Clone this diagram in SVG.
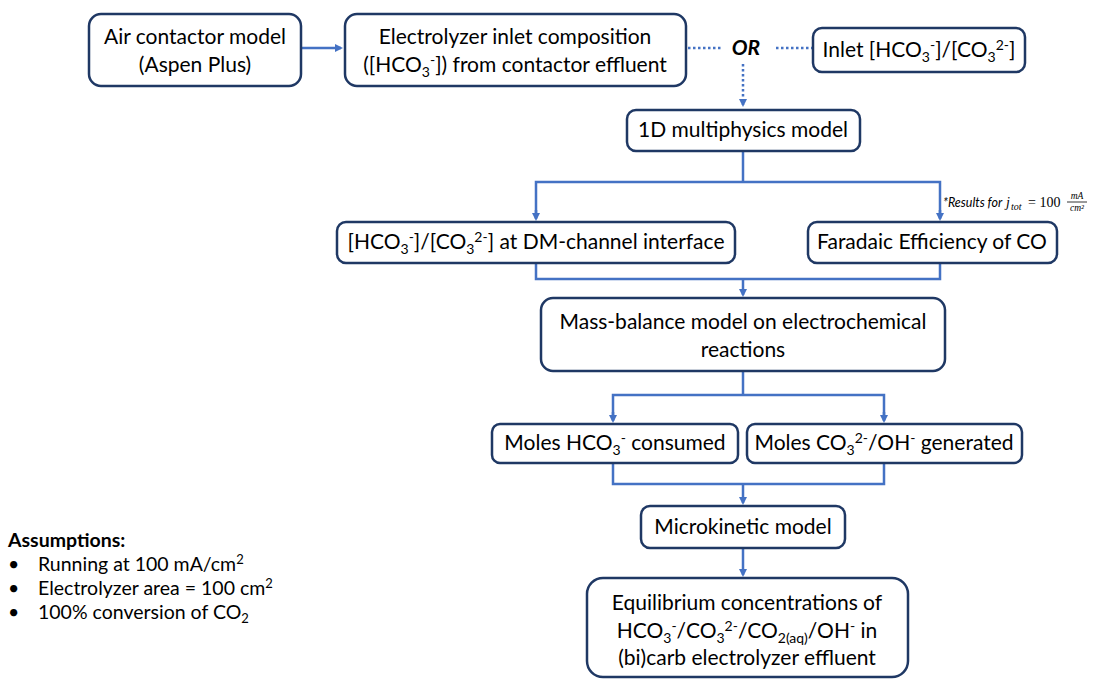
<svg xmlns="http://www.w3.org/2000/svg" width="1097" height="679" viewBox="0 0 1097 679">
<defs>
<marker id="ah" markerWidth="8" markerHeight="8" refX="6" refY="4" orient="auto" markerUnits="userSpaceOnUse">
<path d="M0,0 L8,4 L0,8 z" fill="#4472C4"/>
</marker>
<style>
.box{fill:#fff;stroke:#1F3864;stroke-width:2.5}
.t{font-family:Lato,"Liberation Sans",sans-serif;font-size:21px;fill:#000;text-anchor:middle}
.s{font-size:14px}
.c{fill:none;stroke:#4472C4;stroke-width:2.5}
.d{fill:none;stroke:#4472C4;stroke-width:2.5;stroke-dasharray:2.5 2.5}
.a{font-family:Lato,"Liberation Sans",sans-serif;font-size:19.5px;fill:#000}
.n{font-family:Lato,"Liberation Sans",sans-serif;font-size:12.5px;font-style:italic;fill:#000}
.m{font-family:"Liberation Serif",serif;font-style:italic;fill:#000}
</style>
</defs>
<rect width="1097" height="679" fill="#fff"/>
<g id="connectors">
<line class="c" x1="302" y1="48" x2="341" y2="48" marker-end="url(#ah)"/>
<line class="d" x1="688" y1="48" x2="722" y2="48"/>
<line class="d" x1="776" y1="48" x2="812" y2="48"/>
<line class="d" x1="743" y1="64" x2="743" y2="105" marker-end="url(#ah)"/>
<polyline class="c" points="743,151 743,182"/>
<polyline class="c" points="536,218 536,182 940,182 940,218"/>
<line class="c" x1="536" y1="210" x2="536" y2="219" marker-end="url(#ah)"/>
<line class="c" x1="940" y1="210" x2="940" y2="219" marker-end="url(#ah)"/>
<polyline class="c" points="536,263 536,279 940,279 940,263"/>
<line class="c" x1="743" y1="279" x2="743" y2="295" marker-end="url(#ah)"/>
<polyline class="c" points="743,371 743,395"/>
<polyline class="c" points="613,420 613,395 884,395 884,420"/>
<line class="c" x1="613" y1="412" x2="613" y2="421" marker-end="url(#ah)"/>
<line class="c" x1="884" y1="412" x2="884" y2="421" marker-end="url(#ah)"/>
<polyline class="c" points="613,463 613,484 884,484 884,463"/>
<line class="c" x1="743" y1="484" x2="743" y2="503" marker-end="url(#ah)"/>
<line class="c" x1="743" y1="548" x2="743" y2="575" marker-end="url(#ah)"/>
</g>
<g id="n-air">
<rect class="box" x="89" y="14" width="212" height="72" rx="12"/>
<text class="t" x="195" y="44">Air contactor model</text>
<text class="t" x="195" y="72">(Aspen Plus)</text>
</g>
<g id="n-inlet-comp">
<rect class="box" x="345" y="14" width="341" height="72" rx="12"/>
<text class="t" x="515" y="44">Electrolyzer inlet composition</text>
<text class="t" x="515" y="72">([HCO<tspan class="s" dy="5">3</tspan><tspan class="s" dy="-12">-</tspan><tspan dy="7">]) from contactor effluent</tspan></text>
</g>
<g id="n-or">
<text class="t" x="746" y="55" font-weight="bold" font-style="italic">OR</text>
</g>
<g id="n-inlet">
<rect class="box" x="813" y="28" width="212" height="44" rx="9"/>
<text class="t" x="919" y="57">Inlet [HCO<tspan class="s" dy="5">3</tspan><tspan class="s" dy="-12">-</tspan><tspan dy="7">]/[CO</tspan><tspan class="s" dy="5">3</tspan><tspan class="s" dy="-12">2-</tspan><tspan dy="7">]</tspan></text>
</g>
<g id="n-1d">
<rect class="box" x="627" y="110" width="233" height="41" rx="9"/>
<text class="t" x="743" y="137">1D multiphysics model</text>
</g>
<g id="n-dm">
<rect class="box" x="337" y="222" width="398" height="41" rx="9"/>
<text class="t" x="536" y="249">[HCO<tspan class="s" dy="5">3</tspan><tspan class="s" dy="-12">-</tspan><tspan dy="7">]/[CO</tspan><tspan class="s" dy="5">3</tspan><tspan class="s" dy="-12">2-</tspan><tspan dy="7">] at DM-channel interface</tspan></text>
</g>
<g id="n-fe">
<rect class="box" x="808" y="222" width="249" height="41" rx="9"/>
<text class="t" x="932" y="249">Faradaic Efficiency of CO</text>
</g>
<g id="note">
<text class="n" x="943" y="207">*Results for</text>
<text class="m" x="1006" y="207" font-size="14">j</text>
<text class="m" x="1011" y="210" font-size="10">tot</text>
<text x="1028" y="207" font-family="'Liberation Serif',serif" font-size="14">= 100</text>
<text class="m" x="1077" y="199" font-size="9.5" text-anchor="middle">mA</text>
<line x1="1067" y1="202" x2="1087" y2="202" stroke="#000" stroke-width="0.8"/>
<text class="m" x="1077" y="211" font-size="9.5" text-anchor="middle">cm²</text>
</g>
<g id="n-mass">
<rect class="box" x="541" y="298" width="404" height="73" rx="12"/>
<text class="t" x="743" y="329">Mass-balance model on electrochemical</text>
<text class="t" x="743" y="357">reactions</text>
</g>
<g id="n-hco3">
<rect class="box" x="492" y="424" width="246" height="39" rx="8"/>
<text class="t" x="615" y="450">Moles HCO<tspan class="s" dy="5">3</tspan><tspan class="s" dy="-12">-</tspan><tspan dy="7"> consumed</tspan></text>
</g>
<g id="n-co3">
<rect class="box" x="747" y="424" width="275" height="39" rx="8"/>
<text class="t" x="884" y="450">Moles CO<tspan class="s" dy="5">3</tspan><tspan class="s" dy="-12">2-</tspan><tspan dy="7">/OH</tspan><tspan class="s" dy="-7">-</tspan><tspan dy="7"> generated</tspan></text>
</g>
<g id="n-micro">
<rect class="box" x="641" y="506" width="204" height="42" rx="9"/>
<text class="t" x="743" y="534">Microkinetic model</text>
</g>
<g id="n-eq">
<rect class="box" x="587" y="578" width="321" height="99" rx="16"/>
<text class="t" x="747" y="610">Equilibrium concentrations of</text>
<text class="t" x="747" y="638">HCO<tspan class="s" dy="5">3</tspan><tspan class="s" dy="-12">-</tspan><tspan dy="7">/CO</tspan><tspan class="s" dy="5">3</tspan><tspan class="s" dy="-12">2-</tspan><tspan dy="7">/CO</tspan><tspan class="s" dy="5">2(aq)</tspan><tspan dy="-5">/OH</tspan><tspan class="s" dy="-7">-</tspan><tspan dy="7"> in</tspan></text>
<text class="t" x="747" y="665">(bi)carb electrolyzer effluent</text>
</g>
<g id="assumptions">
<text class="a" x="8" y="547" font-weight="bold" font-size="21">Assumptions:</text>
<text class="a" x="8" y="571">•</text>
<text class="a" x="38" y="571">Running at 100 mA/cm<tspan font-size="13" dy="-7">2</tspan></text>
<text class="a" x="8" y="595">•</text>
<text class="a" x="38" y="595">Electrolyzer area = 100 cm<tspan font-size="13" dy="-7">2</tspan></text>
<text class="a" x="8" y="619">•</text>
<text class="a" x="38" y="619">100% conversion of CO<tspan font-size="13" dy="4">2</tspan></text>
</g>
</svg>
